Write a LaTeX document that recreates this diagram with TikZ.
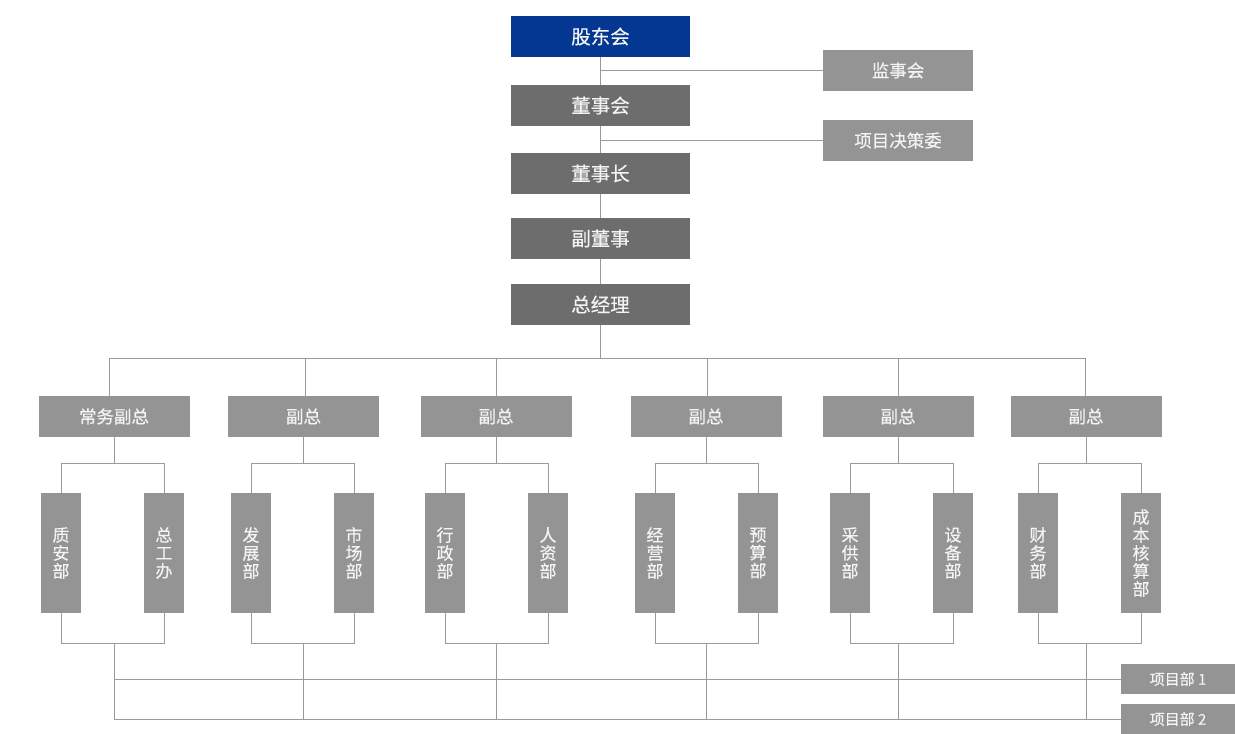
\documentclass[tikz,border=0pt]{standalone}
\usepackage{fontspec}
\usetikzlibrary{calc}
\newfontfamily\cjk[FakeBold=0.3]{Noto Sans CJK SC}
\definecolor{topblue}{HTML}{033791}
\definecolor{darkbox}{HTML}{6D6D6D}
\definecolor{lightbox}{HTML}{949494}
\definecolor{linegray}{HTML}{9A9A9A}
\definecolor{txt}{HTML}{F4F4F4}
\begin{document}
\begin{tikzpicture}[x=1pt,y=-1pt,
  base/.style={rectangle, inner sep=0pt, text=txt, align=center},
  topbox/.style={base, fill=darkbox, minimum width=179pt, minimum height=41pt, font=\cjk\fontsize{19.5}{22}\selectfont},
  sidebox/.style={base, fill=lightbox, minimum width=150pt, minimum height=41pt, font=\cjk\fontsize{17.5}{20}\selectfont},
  vpbox/.style={base, fill=lightbox, minimum width=151pt, minimum height=41pt, font=\cjk\fontsize{17.5}{20}\selectfont},
  deptbox/.style={base, fill=lightbox, minimum width=40pt, minimum height=120pt, font=\cjk\fontsize{17}{18}\selectfont},
  pmbox/.style={base, fill=lightbox, minimum width=114pt, minimum height=30pt, font=\cjk\fontsize{15}{17}\selectfont},
  conn/.style={draw=linegray, line width=1pt}
]
\useasboundingbox (0,0) rectangle (1235,734);
% top column
\node[topbox, fill=topblue] (gd) at (600.5,36.5) {股东会};
\node[topbox] (dsh) at (600.5,105.5) {董事会};
\node[topbox] (dsz) at (600.5,173.5) {董事长};
\node[topbox] (fds) at (600.5,238.5) {副董事};
\node[topbox] (zjl) at (600.5,304.5) {总经理};
\node[sidebox] (jsh) at (898,70.5) {监事会};
\node[sidebox] (xmj) at (898,140.5) {项目决策委};
\draw[conn] (gd.south) -- (dsh.north);
\draw[conn] (dsh.south) -- (dsz.north);
\draw[conn] (dsz.south) -- (fds.north);
\draw[conn] (fds.south) -- (zjl.north);
\draw[conn] (gd.south |- jsh.west) -- (jsh.west);
\draw[conn] (dsh.south |- xmj.west) -- (xmj.west);
\coordinate (bus) at (600.5,358);
\draw[conn] (zjl.south) -- (bus);
% project boxes
\node[pmbox] (pm1) at (1178,679) {项目部 1};
\node[pmbox] (pm2) at (1178,719) {项目部 2};
% groups
\foreach \i/\x/\dx/\xa/\xb/\ta/\tb/\lab in {
  1/114/-5/61/164/{质\\安\\部}/{总\\工\\办}/常务副总,
  2/303.5/1.5/251/354/{发\\展\\部}/{市\\场\\部}/副总,
  3/496/0/445/548/{行\\政\\部}/{人\\资\\部}/副总,
  4/706/1/655/758/{经\\营\\部}/{预\\算\\部}/副总,
  5/898/0/850/953/{采\\供\\部}/{设\\备\\部}/副总,
  6/1086/-1/1038/1141/{财\\务\\部}/{成\\本\\核\\算\\部}/副总}{
  \node[vpbox] (vp\i) at (\x,416.5) {\lab};
  \node[deptbox] (da\i) at (\xa,553) {\ta};
  \node[deptbox] (db\i) at (\xb,553) {\tb};
  \coordinate (tp\i) at ([xshift=\dx pt]vp\i.north);
  \draw[conn] (bus -| tp\i) -- (tp\i);
  \coordinate (up\i) at ($(vp\i.south)+(0,26)$);
  \draw[conn] (vp\i.south) -- (up\i);
  \draw[conn] (da\i.north) -- (da\i.north |- up\i) -- (db\i.north |- up\i) -- (db\i.north);
  \coordinate (lo\i) at ($(vp\i.south)+(0,206)$);
  \draw[conn] (da\i.south) -- (da\i.south |- lo\i) -- (db\i.south |- lo\i) -- (db\i.south);
  \draw[conn] (lo\i) -- (lo\i |- pm2.west);
}
\draw[conn] (bus -| tp1) -- (bus -| tp6);
\draw[conn] (lo1 |- pm1.west) -- (pm1.west);
\draw[conn] (lo1 |- pm2.west) -- (pm2.west);
\end{tikzpicture}
\end{document}
